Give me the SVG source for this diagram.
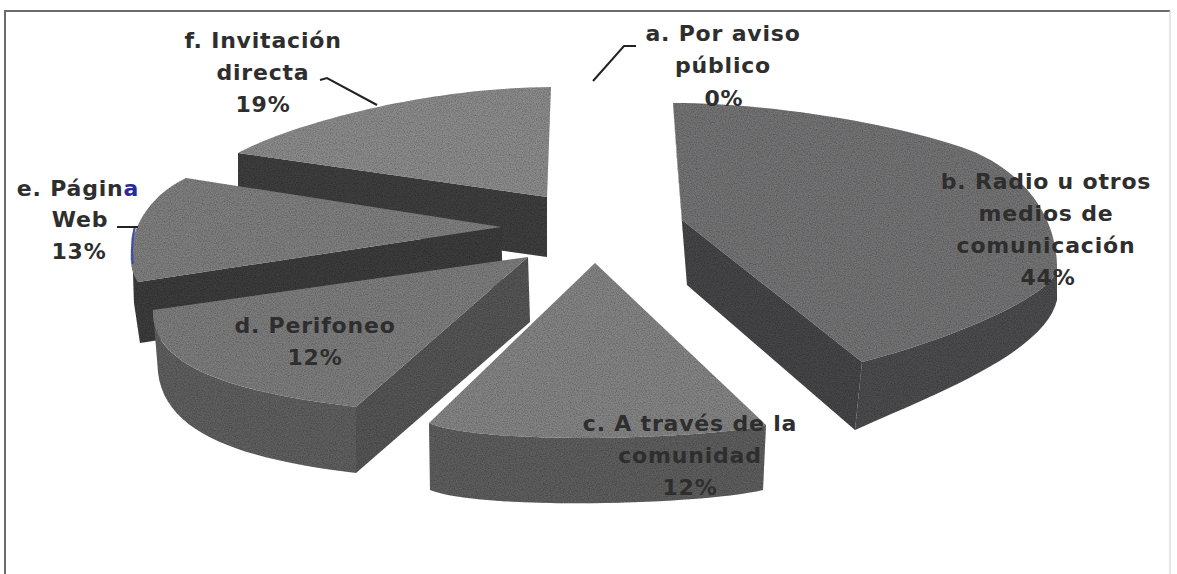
<svg xmlns="http://www.w3.org/2000/svg" width="1177" height="574" viewBox="0 0 1177 574">
<style>
.lbl{font-family:"DejaVu Sans","Liberation Sans",sans-serif;font-weight:700;font-size:22px;letter-spacing:0.8px;fill:#2e2e2e;text-anchor:middle}
.lead{fill:none;stroke:#222;stroke-width:2}
.frame{fill:none;stroke:#6a6a6a;stroke-width:2}
.slice{filter:url(#grain)}
</style>
<defs>
  <filter id="grain" filterUnits="userSpaceOnUse" x="0" y="0" width="1177" height="574">
    <feTurbulence type="fractalNoise" baseFrequency="0.85" numOctaves="2" seed="7" result="noise"/>
    <feColorMatrix in="noise" type="matrix" values="0 0 0 0 0  0 0 0 0 0  0 0 0 0 0  0.9 0 0 0 -0.3" result="dark"/>
    <feComposite in="dark" in2="SourceGraphic" operator="in" result="grainIn"/>
    <feMerge>
      <feMergeNode in="SourceGraphic"/>
      <feMergeNode in="grainIn"/>
    </feMerge>
  </filter>
</defs>
<rect width="1177" height="574" fill="#ffffff"/>
<path class="frame" d="M5,574 L5,11 L1170,11"/>
<path d="M1170,11 L1170,574" stroke="#dcdcdc" stroke-width="1.5" fill="none"/>

<g id="slice-f" class="slice">
  <path d="M238,153 L547,197 L547,257 L238,213 Z" fill="#3f3f3f"/>
  <path d="M238,153 C290,125 420,88 551,87 L547,197 Z" fill="#8c8c8c"/>
</g>

<g id="slice-b" class="slice">
  <path d="M673,105 L682,220 L862,362 L855,430 L687,285 L677,160 Z" fill="#464648"/>
  <path d="M1057,268 C1057,292 965,335 862,362 L855,430 C920,400 1045,355 1057,300 Z" fill="#4e4e50"/>
  <path d="M673,103 C760,103 880,120 961,147 C1010,163 1057,205 1057,268 C1057,292 965,335 862,362 L682,220 Z" fill="#747476"/>
</g>

<g id="slice-e" class="slice">
  <path d="M132,243 C133,262 135,274 138,282 L501,227 L503,287 L140,343 L134,303 Z" fill="#3d3d3d"/>
  <path d="M186,178 L501,227 L138,282 C122,262 130,205 186,178 Z" fill="#808080"/>
  <path d="M135,226 C132,238 131,250 133,264" fill="none" stroke="#4656b4" stroke-width="2.2"/>
</g>

<g id="slice-d" class="slice">
  <path d="M528,257 L356,407 L356,473 L530,322 Z" fill="#565656"/>
  <path d="M153,310 C150,375 260,395 356,407 L356,473 C260,461 165,440 158,372 Z" fill="#606060"/>
  <path d="M153,310 L528,257 L356,407 C260,395 150,375 153,310 Z" fill="#7e7e7e"/>
</g>

<g id="slice-c" class="slice">
  <path d="M429,423 C480,445 700,440 766,425 L763,490 C700,505 480,510 430,490 Z" fill="#5e5e5e"/>
  <path d="M595,263 L766,425 C700,440 480,445 429,423 Z" fill="#858585"/>
</g>

<g id="connectors">
  <polyline class="lead" points="320,80 327,78 377,105"/>
  <polyline class="lead" points="593,81 624,46 636,46"/>
  <polyline class="lead" points="117,227 138,227"/>
</g>

<g id="label-a">
  <text class="lbl" x="723" y="41">a. Por aviso</text>
  <text class="lbl" x="723" y="73">público</text>
  <text class="lbl" x="724" y="106">0%</text>
</g>
<g id="label-b">
  <text class="lbl" x="1046" y="189">b. Radio u otros</text>
  <text class="lbl" x="1046" y="221">medios de</text>
  <text class="lbl" x="1046" y="253">comunicación</text>
  <text class="lbl" x="1048" y="285">44%</text>
</g>
<g id="label-c">
  <text class="lbl" x="690" y="431">c. A través de la</text>
  <text class="lbl" x="690" y="463">comunidad</text>
  <text class="lbl" x="690" y="495">12%</text>
</g>
<g id="label-d">
  <text class="lbl" x="315" y="333">d. Perifoneo</text>
  <text class="lbl" x="315" y="365">12%</text>
</g>
<g id="label-e">
  <text class="lbl" x="78" y="196">e. Págin<tspan fill="#2a2a9a">a</tspan></text>
  <text class="lbl" x="80" y="227">Web</text>
  <text class="lbl" x="79" y="259">13%</text>
</g>
<g id="label-f">
  <text class="lbl" x="263" y="48">f. Invitación</text>
  <text class="lbl" x="263" y="80">directa</text>
  <text class="lbl" x="263" y="112">19%</text>
</g>
</svg>
